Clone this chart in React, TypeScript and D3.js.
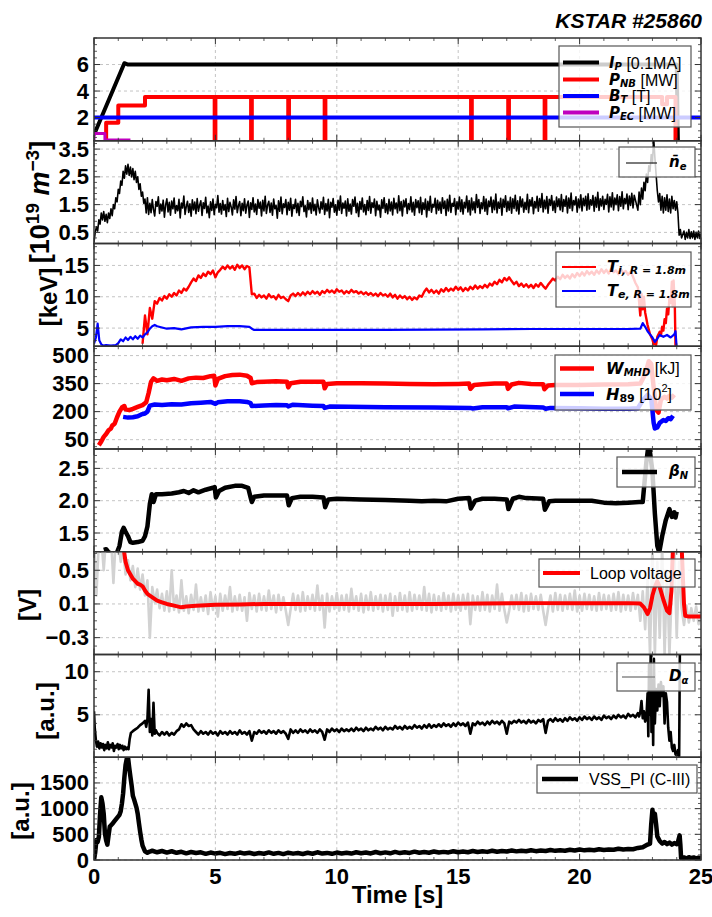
import React from "react";
import * as d3 from "d3";

type Pt = [number, number];

// ---------------- axis ticks ----------------
const TIME_TICKS = [0, 5, 10, 15, 20, 25];
const TICKS_P1 = [2, 4, 6];
const LABELS_P1 = ["2", "4", "6"];
const TICKS_P2 = [0.5, 1.5, 2.5, 3.5];
const LABELS_P2 = ["0.5", "1.5", "2.5", "3.5"];
const TICKS_P3 = [5, 10, 15];
const LABELS_P3 = ["5", "10", "15"];
const TICKS_P4 = [50, 200, 350, 500];
const LABELS_P4 = ["50", "200", "350", "500"];
const TICKS_P5 = [1.5, 2.0, 2.5];
const LABELS_P5 = ["1.5", "2.0", "2.5"];
const TICKS_P6 = [-0.3, 0.1, 0.5];
const LABELS_P6 = ["\u22120.3", "0.1", "0.5"];
const TICKS_P7 = [5, 10];
const LABELS_P7 = ["5", "10"];
const TICKS_P8 = [0, 500, 1000, 1500];
const LABELS_P8 = ["0", "500", "1000", "1500"];

// ---------------- panel 1 ----------------
const IP: Pt[] = [[0, 0.7], [1.25, 6.1], [1.4, 6.0], [24.0, 6.0], [24.05, 0]];
const PNB: Pt[] = [[0.5, 0], [0.5, 1.6], [1.0, 1.6], [1.0, 2.9], [2.1, 2.9], [2.1, 3.55], [4.97, 3.55], [4.97, 0], [5.0, 0], [5.0, 3.55], [6.47, 3.55], [6.47, 0], [6.5, 0], [6.5, 3.55], [8.0, 3.55], [8.0, 0], [8.03, 0], [8.03, 3.55], [9.5, 3.55], [9.5, 0], [9.53, 0], [9.53, 3.55], [15.53, 3.55], [15.53, 0], [15.56, 0], [15.56, 3.55], [17.06, 3.55], [17.06, 0], [17.09, 0], [17.09, 3.55], [18.56, 3.55], [18.56, 0], [18.59, 0], [18.59, 3.55], [23.4, 3.55], [23.4, 3.0], [23.6, 3.0], [23.6, 3.55], [23.95, 3.55], [23.95, 0], [25, 0]];
const BT: Pt[] = [[0, 2.0], [25, 2.0]];
const PEC: Pt[] = [[0, 0.3], [0, 0.8], [0.45, 0.8], [0.45, 0.3], [1.5, 0.3]];

// ---------------- panel 2 : line-averaged density ----------------
const NE_START: Pt[] = [[0, 0.15], [0.05, 0.5], [0.1, 0.7], [0.15, 0.55], [0.2, 0.95], [0.25, 0.8], [0.3, 1.2], [0.35, 0.95], [0.4, 1.25], [0.45, 0.9], [0.5, 1.15], [0.55, 0.85], [0.6, 1.2], [0.65, 1.0], [0.7, 1.35], [0.75, 1.1], [0.8, 1.5], [0.85, 1.35], [0.9, 1.75], [0.95, 1.6], [1.0, 2.05], [1.05, 1.9], [1.1, 2.35], [1.15, 2.2], [1.2, 2.7], [1.25, 2.45], [1.3, 2.9], [1.35, 2.6], [1.4, 2.95], [1.45, 2.55], [1.5, 2.85], [1.55, 2.5], [1.6, 2.8], [1.65, 2.4], [1.7, 2.7], [1.75, 2.3], [1.8, 2.5], [1.85, 2.05], [1.9, 2.25], [1.95, 1.8], [2.0, 1.95], [2.05, 1.55], [2.1, 1.7], [2.15, 1.2], [2.2, 1.75], [2.25, 1.15]];
const NE_MID_T0 = 2.3;
const NE_MID_DT = 0.05;
const NE_MID = [
  1.55, 1.21, 1.68, 1.32, 1.09, 1.61, 1.44, 1.78, 1.18, 1.52, 1.27, 1.66, 1.05, 1.49, 1.71, 1.24, 1.58, 1.12, 1.63, 1.35,
  1.74, 1.19, 1.47, 1.28, 1.69, 1.02, 1.56, 1.38, 1.81, 1.15, 1.43, 1.62, 1.22, 1.53, 1.08, 1.67, 1.31, 1.59, 1.17, 1.72,
  1.26, 1.48, 1.64, 1.11, 1.57, 1.36, 1.76, 1.20, 1.45, 1.03, 1.60, 1.29, 1.70, 1.14, 1.51, 1.39, 1.83, 1.23, 1.54, 1.16,
  1.65, 1.30, 1.50, 1.07, 1.73, 1.25, 1.58, 1.42, 1.13, 1.67, 1.34, 1.79, 1.21, 1.46, 1.61, 1.10, 1.55, 1.28, 1.71, 1.19,
  1.48, 1.63, 1.04, 1.57, 1.33, 1.75, 1.24, 1.52, 1.15, 1.68, 1.37, 1.59, 1.09, 1.66, 1.27, 1.80, 1.18, 1.49, 1.62, 1.22,
  1.56, 1.12, 1.70, 1.35, 1.47, 1.01, 1.64, 1.26, 1.77, 1.17, 1.53, 1.40, 1.68, 1.14, 1.58, 1.30, 1.73, 1.08, 1.50, 1.36,
  1.69, 1.21, 1.55, 1.11, 1.62, 1.43, 1.78, 1.25, 1.46, 1.06, 1.65, 1.32, 1.57, 1.19, 1.74, 1.28, 1.51, 1.13, 1.67, 1.39,
  1.20, 1.60, 1.34, 1.76, 1.15, 1.54, 1.27, 1.69, 1.03, 1.58, 1.41, 1.72, 1.23, 1.49, 1.12, 1.66, 1.30, 1.81, 1.18, 1.56,
  1.37, 1.63, 1.09, 1.71, 1.26, 1.52, 1.16, 1.68, 1.44, 1.77, 1.21, 1.55, 1.07, 1.61, 1.33, 1.74, 1.24, 1.50, 1.14, 1.65,
  1.29, 1.79, 1.19, 1.57, 1.40, 1.70, 1.10, 1.62, 1.31, 1.48, 1.05, 1.67, 1.36, 1.75, 1.22, 1.53, 1.17, 1.69, 1.27, 1.59,
  1.13, 1.73, 1.35, 1.56, 1.20, 1.82, 1.28, 1.61, 1.09, 1.66, 1.42, 1.71, 1.18, 1.54, 1.32, 1.78, 1.24, 1.58, 1.12, 1.68,
  1.39, 1.64, 1.21, 1.76, 1.15, 1.57, 1.33, 1.70, 1.06, 1.62, 1.29, 1.80, 1.23, 1.51, 1.41, 1.73, 1.17, 1.66, 1.30, 1.59,
  1.19, 1.75, 1.36, 1.63, 1.11, 1.69, 1.27, 1.84, 1.22, 1.55, 1.44, 1.72, 1.14, 1.60, 1.34, 1.77, 1.25, 1.67, 1.16, 1.58,
  1.38, 1.81, 1.24, 1.65, 1.13, 1.74, 1.31, 1.60, 1.21, 1.86, 1.40, 1.68, 1.18, 1.57, 1.35, 1.79, 1.26, 1.70, 1.15, 1.63,
  1.43, 1.77, 1.22, 1.66, 1.32, 1.88, 1.20, 1.59, 1.37, 1.73, 1.12, 1.69, 1.41, 1.82, 1.25, 1.62, 1.30, 1.76, 1.19, 1.71,
  1.36, 1.84, 1.27, 1.64, 1.16, 1.78, 1.42, 1.70, 1.23, 1.58, 1.33, 1.87, 1.21, 1.67, 1.45, 1.75, 1.17, 1.61, 1.38, 1.80,
  1.26, 1.72, 1.40, 1.90, 1.24, 1.66, 1.35, 1.79, 1.19, 1.69, 1.47, 1.83, 1.29, 1.63, 1.22, 1.77, 1.43, 1.71, 1.31, 1.86,
  1.25, 1.68, 1.44, 1.81, 1.20, 1.74, 1.37, 1.92, 1.28, 1.65, 1.49, 1.78, 1.23, 1.70, 1.39, 1.85, 1.27, 1.73, 1.46, 1.80,
  1.30, 1.89, 1.34, 1.67, 1.48, 1.83, 1.26, 1.76, 1.41, 1.94, 1.29, 1.71, 1.45, 1.80, 1.33, 1.69, 1.51, 1.87, 1.24, 1.78,
  1.42, 1.93, 1.31, 1.74, 1.50, 1.85, 1.28, 1.79, 1.44, 1.96, 1.35, 1.72, 1.53, 1.88, 1.32, 1.81, 1.47, 1.91, 1.38, 1.84,
];
const NE_END: Pt[] = [[22.4, 1.3], [22.45, 1.95], [22.5, 1.5], [22.55, 2.1], [22.6, 1.7], [22.65, 2.3], [22.7, 2.0], [22.75, 2.6], [22.8, 2.3], [22.85, 2.9], [22.9, 2.7], [22.95, 3.3], [23.0, 3.0], [23.05, 3.9], [23.1, 3.2], [23.15, 2.6], [23.2, 2.0], [23.25, 1.6], [23.3, 1.9], [23.35, 1.3], [23.4, 1.8], [23.45, 1.2], [23.5, 1.75], [23.55, 1.3], [23.6, 1.85], [23.65, 1.25], [23.7, 1.7], [23.75, 1.2], [23.8, 1.8], [23.85, 1.35], [23.9, 1.65], [23.95, 1.3], [24.0, 1.6], [24.05, 1.2], [24.1, 0.4], [24.15, 0.6], [24.2, 0.3], [24.3, 0.55], [24.35, 0.25], [24.4, 0.5], [24.45, 0.3], [24.5, 0.6], [24.55, 0.28], [24.6, 0.52], [24.65, 0.3], [24.7, 0.55], [24.75, 0.25], [24.8, 0.5], [24.85, 0.3], [24.9, 0.55], [24.95, 0.28], [25, 0.45]];

// ---------------- panel 3 : temperatures ----------------
const TI_T0 = 2.0;
const TI_DT = 0.1;
const TI_MID = [
  2.5, 7.0, 4.0, 8.2, 6.5, 9.3, 8.9, 9.8, 9.4, 10.1,
  9.7, 10.4, 10.0, 10.6, 10.2, 11.0, 10.6, 11.3, 11.0, 11.6,
  12.3, 12.9, 12.5, 13.4, 13.0, 13.7, 13.3, 14.0, 13.6, 14.2,
  13.1, 13.9, 14.3, 14.8, 14.4, 15.0, 14.5, 14.9, 14.3, 15.1,
  14.6, 15.0, 14.4, 14.9, 14.7, 10.4, 10.5, 9.8, 10.3, 9.9,
  10.2, 9.7, 10.4, 9.9, 10.1, 9.6, 10.3, 9.8, 10.0, 9.6,
  9.3, 10.2, 10.5, 10.1, 10.6, 10.2, 10.7, 10.3, 10.8, 10.4,
  10.9, 10.5, 10.8, 10.3, 10.9, 10.6, 11.1, 10.7, 11.0, 10.6,
  11.2, 10.8, 11.0, 10.5, 10.9, 10.6, 11.1, 10.7, 10.9, 10.5,
  10.8, 10.4, 10.7, 10.3, 10.6, 10.2, 10.5, 10.1, 10.6, 10.2,
  10.4, 10.0, 10.5, 9.9, 10.3, 9.7, 10.2, 9.8, 10.1, 9.6,
  10.0, 9.5, 9.9, 9.6, 10.2, 10.0, 10.8, 11.3, 10.7, 11.1,
  10.6, 11.0, 10.5, 11.2, 10.8, 11.4, 10.9, 11.3, 11.0, 11.6,
  11.1, 11.5, 10.9, 11.4, 11.0, 11.6, 11.2, 11.8, 11.3, 11.7,
  11.4, 11.9, 11.5, 12.1, 11.8, 12.4, 12.0, 12.7, 12.3, 13.0,
  12.6, 13.1, 12.5, 12.0, 12.4, 11.7, 12.1, 11.6, 12.0, 11.5,
  11.9, 11.4, 12.0, 11.6, 12.2, 11.7, 11.3, 11.9, 12.4, 12.9,
  12.6, 13.2, 12.8, 13.5, 13.0, 13.4, 12.9, 13.6, 13.1, 13.8,
  13.3, 13.9, 13.4, 14.1, 13.6, 14.0, 13.5, 14.2, 13.7, 14.4,
  13.8, 14.3, 13.7, 14.5, 13.9, 14.2, 13.6, 14.4, 13.8, 14.1,
  13.5, 14.0, 13.2, 12.2, 11.5,
];
const TI_END: Pt[] = [[22.5, 7.0], [22.55, 10.5], [22.6, 8.0], [22.65, 10.0], [22.7, 7.5], [22.8, 5.5], [22.9, 4.0], [23.0, 3.2], [23.05, 2.4], [23.1, 3.0], [23.15, 2.3], [23.2, 3.6], [23.3, 4.4], [23.35, 3.8], [23.4, 5.2], [23.45, 4.6], [23.5, 6.4], [23.55, 5.8], [23.6, 8.1], [23.65, 7.2], [23.7, 9.8], [23.75, 9.0], [23.8, 12.4], [23.83, 8.5], [23.87, 12.6], [23.92, 9.0], [23.95, 2.0]];
const TE: Pt[] = [[0, 2.5], [0.08, 3.5], [0.15, 5.7], [0.22, 3.0], [0.3, 2.4], [0.4, 2.2], [0.5, 2.3], [0.7, 2.2], [0.9, 2.3], [1.0, 2.6], [1.1, 3.2], [1.2, 2.9], [1.3, 3.5], [1.4, 3.1], [1.5, 3.6], [1.6, 3.2], [1.7, 3.7], [1.8, 3.3], [1.9, 3.8], [2.0, 3.5], [2.1, 4.0], [2.2, 4.3], [2.3, 4.9], [2.4, 5.3], [2.5, 5.5], [2.6, 5.3], [2.8, 5.1], [3.0, 4.9], [3.3, 5.0], [3.6, 4.8], [4.0, 5.1], [4.5, 5.2], [5.0, 5.2], [5.5, 5.3], [6.0, 5.3], [6.4, 5.2], [6.5, 4.9], [6.6, 4.7], [7.0, 4.7], [8, 4.7], [9, 4.7], [10, 4.7], [12, 4.7], [14, 4.75], [16, 4.8], [18, 4.85], [20, 4.85], [22, 4.85], [22.5, 4.9], [22.6, 5.8], [22.7, 5.2], [22.8, 4.5], [22.9, 4.0], [23.0, 3.5], [23.1, 2.8], [23.2, 3.3], [23.3, 3.9], [23.45, 3.6], [23.6, 3.9], [23.75, 3.5], [23.9, 4.0], [23.95, 4.5], [24.0, 1.8]];

// ---------------- panel 4 : stored energy, H89 ----------------
const WMHD: Pt[] = [[0.2, 20], [0.3, 40], [0.4, 65], [0.5, 80], [0.6, 100], [0.7, 110], [0.75, 125], [0.85, 135], [0.95, 170], [1.05, 200], [1.15, 222], [1.25, 230], [1.3, 212], [1.45, 208], [1.6, 215], [1.8, 225], [2.0, 235], [2.15, 250], [2.25, 300], [2.35, 360], [2.45, 378], [2.6, 365], [2.8, 372], [3.0, 368], [3.3, 375], [3.6, 365], [3.9, 378], [4.2, 382], [4.5, 380], [4.8, 390], [4.95, 392], [5.0, 340], [5.1, 375], [5.4, 390], [5.7, 396], [6.0, 398], [6.3, 392], [6.45, 380], [6.5, 352], [6.7, 358], [7.0, 360], [7.5, 362], [7.95, 360], [8.0, 330], [8.1, 352], [8.5, 360], [9.0, 360], [9.45, 360], [9.5, 325], [9.6, 348], [10, 352], [11, 352], [12, 350], [13, 348], [14, 346], [15, 348], [15.45, 350], [15.5, 322], [15.65, 343], [16, 346], [16.5, 350], [17.0, 350], [17.05, 322], [17.2, 345], [17.5, 354], [18, 348], [18.5, 346], [18.55, 320], [18.7, 340], [19, 343], [20, 342], [21, 345], [22, 346], [22.5, 350], [22.7, 400], [22.85, 470], [22.95, 455], [23.05, 330], [23.15, 210], [23.25, 195], [23.35, 265], [23.5, 280], [23.6, 270], [23.7, 285], [23.8, 275], [23.9, 290]];
const H89: Pt[] = [[1.2, 172], [1.4, 168], [1.6, 170], [1.8, 175], [1.95, 185], [2.1, 190], [2.2, 200], [2.3, 232], [2.5, 238], [2.8, 236], [3.2, 240], [3.6, 238], [4.0, 245], [4.4, 248], [4.8, 252], [5.0, 242], [5.1, 250], [5.5, 255], [6.0, 256], [6.3, 252], [6.45, 245], [6.5, 230], [7, 233], [7.5, 235], [7.95, 234], [8.0, 228], [8.2, 237], [9.0, 232], [9.45, 230], [9.5, 220], [9.7, 227], [10.5, 226], [12, 224], [14, 222], [15.5, 220], [15.6, 217], [16, 223], [17, 224], [17.05, 218], [17.3, 227], [18.5, 222], [18.6, 215], [18.8, 220], [20, 218], [21, 216], [22, 215], [22.4, 218], [22.6, 260], [22.8, 290], [22.95, 270], [23.05, 140], [23.1, 110], [23.2, 115], [23.3, 140], [23.45, 155], [23.55, 150], [23.65, 165], [23.75, 160], [23.85, 178]];

// ---------------- panel 5 : normalized beta ----------------
const BETAN: Pt[] = [[0.4, 1.24], [0.5, 1.25], [0.6, 1.2], [0.9, 1.15], [1.05, 1.3], [1.15, 1.52], [1.22, 1.58], [1.3, 1.52], [1.4, 1.45], [1.5, 1.36], [1.6, 1.35], [1.8, 1.36], [2.0, 1.38], [2.1, 1.45], [2.2, 1.6], [2.3, 1.95], [2.38, 2.1], [2.45, 1.98], [2.55, 2.1], [2.8, 2.1], [3.2, 2.11], [3.5, 2.13], [3.7, 2.15], [3.9, 2.12], [4.1, 2.16], [4.3, 2.13], [4.6, 2.17], [4.9, 2.2], [4.97, 2.21], [5.02, 2.05], [5.15, 2.15], [5.4, 2.2], [5.8, 2.23], [6.1, 2.23], [6.35, 2.2], [6.45, 2.05], [6.5, 1.98], [6.6, 2.06], [7.0, 2.08], [7.5, 2.08], [7.95, 2.08], [8.02, 1.93], [8.15, 2.04], [8.5, 2.06], [9.0, 2.06], [9.45, 2.05], [9.52, 1.9], [9.65, 2.02], [10, 2.03], [11, 2.02], [12, 2.01], [13, 2.0], [13.5, 1.99], [14.0, 2.0], [14.5, 1.99], [15.0, 2.03], [15.45, 2.04], [15.52, 1.88], [15.7, 2.0], [16, 2.03], [16.5, 2.03], [17.0, 2.02], [17.07, 1.87], [17.25, 2.03], [17.5, 2.06], [17.8, 2.04], [18.5, 2.03], [18.57, 1.86], [18.75, 1.99], [19, 2.0], [20, 2.0], [20.5, 2.0], [21.0, 1.97], [21.5, 1.96], [22.0, 1.97], [22.45, 1.98], [22.6, 1.98], [22.75, 2.6], [22.85, 2.9], [23.0, 2.45], [23.1, 1.8], [23.2, 1.3], [23.28, 1.2], [23.4, 1.45], [23.55, 1.7], [23.7, 1.87], [23.8, 1.75], [23.9, 1.82], [23.95, 1.74], [24.0, 1.83]];

// ---------------- panel 6 : loop voltage ----------------
const VLOOP_RAW_T0 = 0;
const VLOOP_RAW_DT = 0.1;
const VLOOP_RAW = [
  0.9, 0.2, 0.85, 0.9, 0.5, 0.9, 0.8, 0.9, 0.35, 0.9,
  0.85, 0.6, 0.75, 0.45, 0.62, 0.38, 0.55, 0.3, 0.52, 0.27,
  0.45, 0.2, 0.38, -0.3, 0.3, 0.12, 0.27, 0.05, 0.22, 0.02,
  0.25, 0.01, 0.5, 0.03, 0.2, 0.0, 0.38, 0.02, 0.19, -0.01,
  0.21, 0.03, 0.33, 0.01, 0.18, 0.02, 0.2, -0.02, 0.24, 0.03,
  0.19, -0.05, 0.22, 0.02, 0.2, 0.04, 0.3, 0.01, 0.19, 0.03,
  0.21, 0.02, 0.18, -0.1, 0.23, 0.04, 0.2, 0.01, 0.22, 0.03,
  0.19, 0.02, 0.26, 0.04, 0.2, 0.0, 0.21, 0.03, 0.18, 0.02,
  -0.15, 0.04, 0.22, 0.03, 0.2, 0.01, 0.24, 0.02, 0.19, 0.04,
  0.21, 0.02, 0.32, 0.03, 0.2, -0.18, 0.22, 0.01, 0.19, 0.04,
  0.23, 0.02, 0.2, 0.03, 0.21, 0.01, 0.28, 0.04, 0.19, 0.02,
  0.22, 0.0, 0.2, 0.03, 0.24, 0.02, 0.19, 0.04, 0.21, 0.01,
  0.2, 0.03, 0.22, -0.04, 0.19, 0.02, 0.23, 0.03, 0.2, 0.01,
  0.24, 0.02, 0.21, 0.04, 0.2, 0.03, 0.3, 0.02, 0.22, 0.0,
  0.21, 0.03, 0.19, 0.02, 0.23, 0.04, 0.2, 0.01, 0.22, 0.03,
  0.2, 0.02, 0.21, 0.04, 0.22, -0.14, 0.2, 0.03, 0.19, 0.02,
  0.24, 0.03, 0.21, 0.01, 0.2, 0.04, 0.33, 0.02, 0.22, 0.03,
  -0.12, 0.02, 0.2, 0.04, 0.21, 0.03, 0.23, 0.01, 0.2, 0.02,
  0.22, 0.04, 0.19, 0.03, 0.21, 0.02, -0.15, 0.04, 0.2, 0.01,
  0.23, 0.03, 0.21, 0.02, 0.2, 0.04, 0.22, 0.03, 0.26, 0.01,
  0.2, 0.02, 0.22, 0.04, 0.21, 0.03, 0.19, 0.02, 0.23, 0.03,
  0.21, 0.04, 0.2, 0.02, 0.22, 0.03, 0.24, 0.01, 0.21, 0.03,
  0.2, 0.02, 0.23, 0.04, 0.21, -0.1, 0.25, -0.2, 0.4, -0.5,
  0.8, -0.5, 0.6, -0.3, 0.8, -0.5, 0.5, -0.5, 0.3, 0.8,
  -0.3, 0.6, 0.05, -0.15, 0.08, -0.12, 0.05, -0.1, 0.07, -0.14,
  0.02,
];
const VLOOP: Pt[] = [[1.2, 0.8], [1.3, 0.6], [1.4, 0.5], [1.5, 0.45], [1.6, 0.4], [1.7, 0.37], [1.8, 0.34], [1.9, 0.33], [2.0, 0.31], [2.1, 0.26], [2.2, 0.22], [2.3, 0.2], [2.45, 0.17], [2.6, 0.14], [2.8, 0.12], [3.0, 0.1], [3.3, 0.08], [3.6, 0.06], [3.8, 0.07], [4.2, 0.08], [4.6, 0.085], [5.0, 0.09], [6.0, 0.095], [7.0, 0.1], [8.0, 0.1], [10, 0.1], [12, 0.1], [14, 0.1], [16, 0.105], [18, 0.11], [20, 0.11], [22, 0.11], [22.5, 0.105], [22.65, 0.06], [22.8, -0.02], [22.9, 0.05], [23.0, 0.2], [23.1, 0.3], [23.2, 0.37], [23.3, 0.3], [23.45, 0.15], [23.6, 0.02], [23.7, -0.01], [23.78, 0.25], [23.85, 0.8], [24.2, 0.8], [24.3, 0.1], [24.35, -0.04], [24.5, -0.05], [25, -0.05]];

// ---------------- panel 7 : D-alpha ----------------
const DA_START: Pt[] = [[0, 5.4], [0.03, 3.5], [0.08, 2.0], [0.12, 1.3], [0.17, 1.9], [0.22, 1.1], [0.27, 1.7], [0.32, 1.2], [0.37, 1.6], [0.42, 0.9], [0.47, 1.5], [0.52, 1.1], [0.57, 1.8], [0.62, 1.0], [0.67, 1.5], [0.72, 1.2], [0.77, 1.7], [0.82, 0.8], [0.87, 1.4], [0.92, 1.2], [0.97, 1.6], [1.02, 1.0], [1.07, 1.5], [1.12, 1.1], [1.17, 1.4], [1.22, 0.9], [1.27, 1.3], [1.32, 1.0], [1.37, 1.2], [1.42, 1.0], [1.47, 2.2], [1.52, 2.9], [1.6, 3.1], [1.7, 3.3], [1.8, 3.5], [1.9, 3.8], [2.0, 4.0], [2.1, 4.3], [2.15, 3.6], [2.2, 4.5], [2.25, 7.9], [2.3, 3.0], [2.35, 4.5], [2.4, 2.6], [2.45, 6.4], [2.5, 2.8], [2.55, 3.2]];
const DA_MID_T0 = 2.6;
const DA_MID_DT = 0.1;
const DA_MID = [
  2.9, 2.6, 3.0, 2.7, 3.0, 2.6, 2.9, 2.7, 3.1, 3.3,
  3.9, 3.6, 4.0, 3.7, 3.8, 3.3, 3.0, 2.7, 3.1, 2.8,
  3.0, 2.7, 3.1, 2.8, 3.0, 2.6, 3.1, 2.8, 3.0, 2.7,
  3.1, 2.8, 3.0, 2.7, 3.2, 2.8, 3.0, 2.7, 3.1, 2.0,
  3.0, 2.8, 3.2, 2.9, 3.1, 2.8, 3.2, 2.9, 3.1, 2.8,
  3.2, 2.9, 3.1, 2.8, 2.2, 3.3, 2.9, 3.2, 2.9, 3.3,
  3.0, 3.2, 2.9, 3.3, 3.0, 3.2, 2.9, 3.3, 3.0, 2.1,
  3.3, 3.0, 3.4, 3.1, 3.3, 3.0, 3.4, 3.1, 3.3, 3.1,
  3.4, 3.1, 3.5, 3.2, 3.4, 3.1, 3.5, 3.2, 3.4, 3.2,
  3.6, 3.3, 3.5, 3.2, 3.6, 3.3, 3.5, 3.3, 3.7, 3.4,
  3.6, 3.3, 3.7, 3.4, 3.6, 3.4, 3.8, 3.5, 3.7, 3.4,
  3.8, 3.5, 3.9, 3.5, 3.8, 3.6, 3.9, 3.6, 4.0, 3.7,
  3.9, 3.6, 4.0, 3.7, 4.1, 3.8, 4.0, 3.7, 4.1, 2.8,
  4.0, 3.8, 4.2, 3.9, 4.1, 3.8, 4.2, 3.9, 4.3, 4.0,
  4.2, 3.9, 4.3, 4.0, 2.8, 4.2, 4.0, 4.3, 4.1, 4.4,
  4.1, 4.3, 4.0, 4.4, 4.1, 4.3, 4.0, 4.4, 4.2, 4.5,
  2.9, 4.3, 4.5, 4.2, 4.6, 4.3, 4.5, 4.2, 4.6, 4.3,
  4.7, 4.4, 4.6, 4.3, 4.7, 4.4, 4.8, 4.5, 4.7, 4.4,
  4.8, 4.5, 4.7, 4.4, 4.9, 4.6, 4.8, 4.5, 4.9, 4.6,
  5.0, 4.7, 4.9, 4.6, 5.1, 4.8, 5.0, 4.7, 5.2,
];
const DA_END: Pt[] = [[22.45, 4.8], [22.5, 5.3], [22.55, 6.6], [22.6, 4.6], [22.65, 5.4], [22.7, 4.2], [22.75, 4.6], [22.8, 7.5], [22.83, 2.5], [22.86, 10.8], [22.9, 5.0], [22.93, 12.5], [22.96, 3.0], [23.0, 9.0], [23.03, 1.5], [23.06, 11.5], [23.1, 4.0], [23.15, 8.0], [23.2, 5.5], [23.25, 8.5], [23.3, 6.0], [23.35, 8.8], [23.4, 7.2], [23.45, 8.3], [23.5, 4.0], [23.55, 7.5], [23.6, 6.5], [23.65, 3.5], [23.7, 2.0], [23.75, 3.0], [23.8, 1.2], [23.85, 0.8], [23.9, 1.5], [23.95, 0.4], [24.0, 0.3], [24.05, 0.9], [24.1, 0.2], [24.13, 12.5]];

// ---------------- panel 8 : C-III line ----------------
const VSS_START: Pt[] = [[0, 0], [0.05, 150], [0.1, 390], [0.15, 350], [0.2, 450], [0.25, 900], [0.3, 1220], [0.35, 1100], [0.4, 900], [0.45, 520], [0.5, 380], [0.55, 300], [0.6, 480], [0.65, 650], [0.75, 700], [0.85, 760], [0.95, 820], [1.05, 880], [1.1, 950], [1.15, 1100], [1.2, 1300], [1.25, 1600], [1.3, 1850], [1.35, 1970], [1.4, 2000], [1.45, 1800], [1.5, 1620], [1.55, 1450], [1.6, 1250], [1.65, 1180], [1.75, 1020], [1.8, 900], [1.85, 720], [1.9, 550], [1.95, 400], [2.0, 280], [2.1, 170], [2.2, 140], [2.3, 165]];
const VSS_MID_T0 = 2.4;
const VSS_MID_DT = 0.2;
const VSS_MID = [
  180, 150, 175, 145, 170, 140, 160, 130, 155, 135,
  150, 120, 145, 125, 140, 115, 135, 120, 145, 125,
  140, 118, 135, 122, 148, 120, 138, 115, 142, 124,
  135, 118, 140, 122, 150, 125, 138, 120, 145, 128,
  140, 125, 150, 130, 145, 128, 155, 132, 148, 130,
  158, 135, 150, 138, 162, 140, 155, 142, 165, 145,
  158, 148, 170, 150, 165, 152, 175, 155, 170, 158,
  180, 160, 175, 165, 185, 168, 180, 170, 190, 172,
  185, 175, 195, 178, 190, 180, 200, 185, 205, 188,
  198, 190, 210, 195, 205, 200, 220, 205, 215, 210,
  235, 250, 300,
];
const VSS_END: Pt[] = [[22.9, 320], [22.95, 700], [23.0, 980], [23.05, 780], [23.1, 900], [23.15, 700], [23.2, 460], [23.3, 370], [23.4, 320], [23.5, 350], [23.6, 310], [23.7, 340], [23.8, 300], [23.9, 330], [24.0, 310], [24.05, 350], [24.12, 480], [24.15, 300], [24.18, 40], [24.3, 50], [24.4, 30], [24.5, 55], [24.6, 35], [24.7, 50], [24.8, 30], [24.9, 45], [25.0, 35]];

// ---------------- helpers ----------------
const sampled = (t0: number, dt: number, vals: number[]): Pt[] =>
  vals.map((v, i) => [t0 + i * dt, v] as Pt);

const SANS = "'Liberation Sans', Arial, sans-serif";
const MATH = "'DejaVu Sans', sans-serif";

const X0 = 94;
const X1 = 701;
const TOP = 38;
const PH = 102.75;

type Series = { data: Pt[]; color: string; width: number };
type Panel = {
  domain: [number, number];
  ticks: number[];
  labels: string[];
  ndiv: number;
  series: Series[];
};

function minorTicks(ticks: number[], ndiv: number, d: [number, number]) {
  const step = (ticks[1] - ticks[0]) / ndiv;
  const out: number[] = [];
  let v = ticks[0];
  while (v - step >= d[0] - 1e-9) v -= step;
  for (; v <= d[1] + 1e-9; v += step) {
    const isMajor = ticks.some((t) => Math.abs(t - v) < step / 10);
    if (!isMajor) out.push(v);
  }
  return out;
}

function LegendBox({ x, y, w, h }: { x: number; y: number; w: number; h: number }) {
  return <rect x={x} y={y} width={w} height={h} fill="white" fillOpacity={0.8} stroke="#555" strokeWidth={1.2} />;
}

export default function App() {
  const x = d3.scaleLinear().domain([0, 25]).range([X0, X1]);

  const panels: Panel[] = [
    {
      domain: [0.25, 8], ticks: TICKS_P1, labels: LABELS_P1, ndiv: 4,
      series: [
        { data: IP, color: "#000", width: 4 },
        { data: PNB, color: "#ff0000", width: 4 },
        { data: BT, color: "#0000ff", width: 4 },
        { data: PEC, color: "#bf00bf", width: 3 },
      ],
    },
    {
      domain: [0.1, 3.8], ticks: TICKS_P2, labels: LABELS_P2, ndiv: 5,
      series: [{ data: [...NE_START, ...sampled(NE_MID_T0, NE_MID_DT, NE_MID), ...NE_END], color: "#000", width: 1.6 }],
    },
    {
      domain: [2.1, 18.5], ticks: TICKS_P3, labels: LABELS_P3, ndiv: 5,
      series: [
        { data: [...sampled(TI_T0, TI_DT, TI_MID), ...TI_END], color: "#ff0000", width: 2.4 },
        { data: TE, color: "#0000ff", width: 2.2 },
      ],
    },
    {
      domain: [0, 550], ticks: TICKS_P4, labels: LABELS_P4, ndiv: 4,
      series: [
        { data: WMHD, color: "#ff0000", width: 4.5 },
        { data: H89, color: "#0000ff", width: 4.5 },
      ],
    },
    {
      domain: [1.21, 2.8], ticks: TICKS_P5, labels: LABELS_P5, ndiv: 5,
      series: [{ data: BETAN, color: "#000", width: 4.5 }],
    },
    {
      domain: [-0.5, 0.72], ticks: TICKS_P6, labels: LABELS_P6, ndiv: 4,
      series: [
        { data: sampled(VLOOP_RAW_T0, VLOOP_RAW_DT, VLOOP_RAW), color: "#d2d2d2", width: 2.6 },
        { data: VLOOP, color: "#ff0000", width: 4 },
      ],
    },
    {
      domain: [0.07, 12], ticks: TICKS_P7, labels: LABELS_P7, ndiv: 5,
      series: [{ data: [...DA_START, ...sampled(DA_MID_T0, DA_MID_DT, DA_MID), ...DA_END], color: "#000", width: 2.6 }],
    },
    {
      domain: [0, 2000], ticks: TICKS_P8, labels: LABELS_P8, ndiv: 5,
      series: [{ data: [...VSS_START, ...sampled(VSS_MID_T0, VSS_MID_DT, VSS_MID), ...VSS_END], color: "#000", width: 4.5 }],
    },
  ];

  const xMinor = minorTicks(TIME_TICKS, 5, [0, 25]);
  const gridX = TIME_TICKS.filter((t) => t > 0 && t < 25);

  const legends = [
    <g key="l1">
      <LegendBox x={559} y={46} w={132} h={81} />
      {[
        { c: "#000", y: 62.5, main: "I", sub: "P", unit: " [0.1MA]" },
        { c: "#ff0000", y: 79.5, main: "P", sub: "NB", unit: " [MW]" },
        { c: "#0000ff", y: 96, main: "B", sub: "T", unit: " [T]" },
        { c: "#bf00bf", y: 112.5, main: "P", sub: "EC", unit: " [MW]" },
      ].map((e, i) => (
        <g key={i}>
          <line x1={563} x2={599} y1={e.y} y2={e.y} stroke={e.c} strokeWidth={4} />
          <text x={609} y={e.y} dominantBaseline="central" fontFamily={MATH} fontWeight="bold" fontStyle="italic" fontSize={15}>
            {e.main}
            <tspan fontSize={10} dy={3}>{e.sub}</tspan>
            <tspan dy={-3} fontFamily={SANS} fontStyle="normal" fontWeight="normal" fontSize={16}>{e.unit}</tspan>
          </text>
        </g>
      ))}
    </g>,
    <g key="l2">
      <LegendBox x={619} y={147} w={76} h={30} />
      <line x1={626} x2={657} y1={163} y2={163} stroke="#222" strokeWidth={1.2} />
      <text x={669} y={162} dominantBaseline="central" fontFamily={MATH} fontWeight="bold" fontStyle="italic" fontSize={15}>
        {"n\u0304"}
        <tspan fontSize={10} dy={4}>e</tspan>
      </text>
    </g>,
    <g key="l3">
      <LegendBox x={556} y={252} w={135} h={55} />
      <line x1={562} x2={596} y1={267} y2={267} stroke="#ff0000" strokeWidth={2} />
      <line x1={562} x2={596} y1={291} y2={291} stroke="#0000ff" strokeWidth={2} />
      <text x={607} y={266} dominantBaseline="central" fontFamily={MATH} fontWeight="bold" fontStyle="italic" fontSize={16}>
        T<tspan fontSize={11} dy={4}>i, R = 1.8m</tspan>
      </text>
      <text x={607} y={290} dominantBaseline="central" fontFamily={MATH} fontWeight="bold" fontStyle="italic" fontSize={16}>
        T<tspan fontSize={11} dy={4}>e, R = 1.8m</tspan>
      </text>
    </g>,
    <g key="l4">
      <LegendBox x={555} y={355} w={136} h={55} />
      <line x1={560} x2={594} y1={368.5} y2={368.5} stroke="#ff0000" strokeWidth={4.5} />
      <line x1={560} x2={594} y1={394} y2={394} stroke="#0000ff" strokeWidth={4.5} />
      <text x={606} y={368} dominantBaseline="central" fontFamily={MATH} fontWeight="bold" fontStyle="italic" fontSize={16}>
        W<tspan fontSize={10} dy={4}>MHD</tspan>
        <tspan dy={-4} fontFamily={SANS} fontStyle="normal" fontWeight="normal" fontSize={16}> [kJ]</tspan>
      </text>
      <text x={606} y={394} dominantBaseline="central" fontFamily={MATH} fontWeight="bold" fontStyle="italic" fontSize={16}>
        H<tspan fontSize={11} dy={4} fontStyle="normal">89</tspan>
        <tspan dy={-4} fontFamily={SANS} fontStyle="normal" fontWeight="normal" fontSize={16}> [10</tspan>
        <tspan dy={-6} fontFamily={SANS} fontStyle="normal" fontWeight="normal" fontSize={11}>2</tspan>
        <tspan dy={6} fontFamily={SANS} fontStyle="normal" fontWeight="normal" fontSize={16}>]</tspan>
      </text>
    </g>,
    <g key="l5">
      <LegendBox x={617} y={457} w={78} h={30} />
      <line x1={622} x2={657} y1={472} y2={472} stroke="#000" strokeWidth={4.5} />
      <text x={669} y={471} dominantBaseline="central" fontFamily={MATH} fontWeight="bold" fontStyle="italic" fontSize={15}>
        {"\u03b2"}
        <tspan fontSize={10} dy={4}>N</tspan>
      </text>
    </g>,
    <g key="l6">
      <LegendBox x={539} y={559} w={156} h={28} />
      <line x1={543} x2={580} y1={573} y2={573} stroke="#ff0000" strokeWidth={4} />
      <text x={590} y={573} dominantBaseline="central" fontFamily={SANS} fontSize={16}>Loop voltage</text>
    </g>,
    <g key="l7">
      <LegendBox x={617} y={663} w={78} h={28} />
      <line x1={622} x2={655} y1={677} y2={677} stroke="#888" strokeWidth={1.5} />
      <text x={669} y={676} dominantBaseline="central" fontFamily={MATH} fontWeight="bold" fontStyle="italic" fontSize={15}>
        D<tspan fontSize={10} dy={4}>{"\u03b1"}</tspan>
      </text>
    </g>,
    <g key="l8">
      <LegendBox x={537} y={765} w={160} h={28} />
      <line x1={542} x2={578} y1={779} y2={779} stroke="#000" strokeWidth={4.5} />
      <text x={589} y={779} dominantBaseline="central" fontFamily={SANS} fontSize={16}>VSS_PI (C-III)</text>
    </g>,
  ];

  return (
    <svg width={712} height={917} style={{ position: "absolute", left: 0, top: 0, background: "white" }}>
      <rect x={0} y={0} width={712} height={917} fill="white" />
      <defs>
        {panels.map((_, i) => (
          <clipPath id={`clip${i}`} key={i}>
            <rect x={X0} y={TOP + i * PH} width={X1 - X0} height={PH} />
          </clipPath>
        ))}
      </defs>

      <text x={702} y={28} textAnchor="end" fontFamily={SANS} fontWeight="bold" fontStyle="italic" fontSize={21}>
        KSTAR #25860
      </text>

      {panels.map((p, i) => {
        const top = TOP + i * PH;
        const bot = top + PH;
        const y = d3.scaleLinear().domain(p.domain).range([bot, top]);
        const line = d3.line<Pt>().x((d) => x(d[0])).y((d) => y(d[1]));
        const yMinor = minorTicks(p.ticks, p.ndiv, p.domain);
        return (
          <g key={i}>
            {gridX.map((t) => (
              <line key={`gx${t}`} x1={x(t)} x2={x(t)} y1={top} y2={bot} stroke="#b5b5b5" strokeWidth={0.8} strokeDasharray="3,3" />
            ))}
            {p.ticks.map((t) => (
              <line key={`gy${t}`} x1={X0} x2={X1} y1={y(t)} y2={y(t)} stroke="#b5b5b5" strokeWidth={0.8} strokeDasharray="3,3" />
            ))}
            <g clipPath={`url(#clip${i})`}>
              {p.series.map((s, j) => (
                <path key={j} d={line(s.data) || ""} fill="none" stroke={s.color} strokeWidth={s.width} strokeLinejoin="round" />
              ))}
            </g>
            {p.ticks.map((t) => (
              <g key={`t${t}`}>
                <line x1={X0} x2={X0 + 6} y1={y(t)} y2={y(t)} stroke="#333" strokeWidth={1} />
                <line x1={X1} x2={X1 - 6} y1={y(t)} y2={y(t)} stroke="#333" strokeWidth={1} />
              </g>
            ))}
            {yMinor.map((t) => (
              <g key={`m${t}`}>
                <line x1={X0} x2={X0 + 3} y1={y(t)} y2={y(t)} stroke="#333" strokeWidth={0.8} />
                <line x1={X1} x2={X1 - 3} y1={y(t)} y2={y(t)} stroke="#333" strokeWidth={0.8} />
              </g>
            ))}
            {TIME_TICKS.map((t) => (
              <g key={`xt${t}`}>
                <line x1={x(t)} x2={x(t)} y1={bot} y2={bot - 6} stroke="#333" strokeWidth={1} />
                <line x1={x(t)} x2={x(t)} y1={top} y2={top + 6} stroke="#333" strokeWidth={1} />
              </g>
            ))}
            {xMinor.map((t) => (
              <g key={`xm${t}`}>
                <line x1={x(t)} x2={x(t)} y1={bot} y2={bot - 3} stroke="#333" strokeWidth={0.8} />
                <line x1={x(t)} x2={x(t)} y1={top} y2={top + 3} stroke="#333" strokeWidth={0.8} />
              </g>
            ))}
            {p.ticks.map((t, k) => (
              <text key={`tl${t}`} x={89} y={y(t)} textAnchor="end" dominantBaseline="central" fontFamily={SANS} fontWeight="bold" fontSize={22}>
                {p.labels[k]}
              </text>
            ))}
            {legends[i]}
            <rect x={X0} y={top} width={X1 - X0} height={PH} fill="none" stroke="#333" strokeWidth={1.5} />
          </g>
        );
      })}

      {TIME_TICKS.map((t) => (
        <text key={`xl${t}`} x={x(t)} y={876} textAnchor="middle" dominantBaseline="central" fontFamily={SANS} fontWeight="bold" fontSize={22}>
          {t}
        </text>
      ))}
      <text x={(X0 + X1) / 2} y={903} textAnchor="middle" fontFamily={SANS} fontWeight="bold" fontSize={24}>
        Time [s]
      </text>

      <text transform="translate(49,202) rotate(-90)" textAnchor="middle" fontFamily={SANS} fontWeight="bold" fontSize={27}>
        [10<tspan dy={-10} fontSize={19}>19</tspan>
        <tspan dy={10}> </tspan>
        <tspan fontStyle="italic">m</tspan>
        <tspan dy={-10} fontSize={19}>{"\u22123"}</tspan>
        <tspan dy={10}>]</tspan>
      </text>
      <text transform="translate(48,297) rotate(-90)" textAnchor="middle" dominantBaseline="central" fontFamily={SANS} fontWeight="bold" fontSize={24}>
        [keV]
      </text>
      <text transform="translate(27,605) rotate(-90)" textAnchor="middle" dominantBaseline="central" fontFamily={SANS} fontWeight="bold" fontSize={24}>
        [V]
      </text>
      <text transform="translate(45,711) rotate(-90)" textAnchor="middle" dominantBaseline="central" fontFamily={SANS} fontWeight="bold" fontSize={24}>
        [a.u.]
      </text>
      <text transform="translate(20,811) rotate(-90)" textAnchor="middle" dominantBaseline="central" fontFamily={SANS} fontWeight="bold" fontSize={24}>
        [a.u.]
      </text>
    </svg>
  );
}
